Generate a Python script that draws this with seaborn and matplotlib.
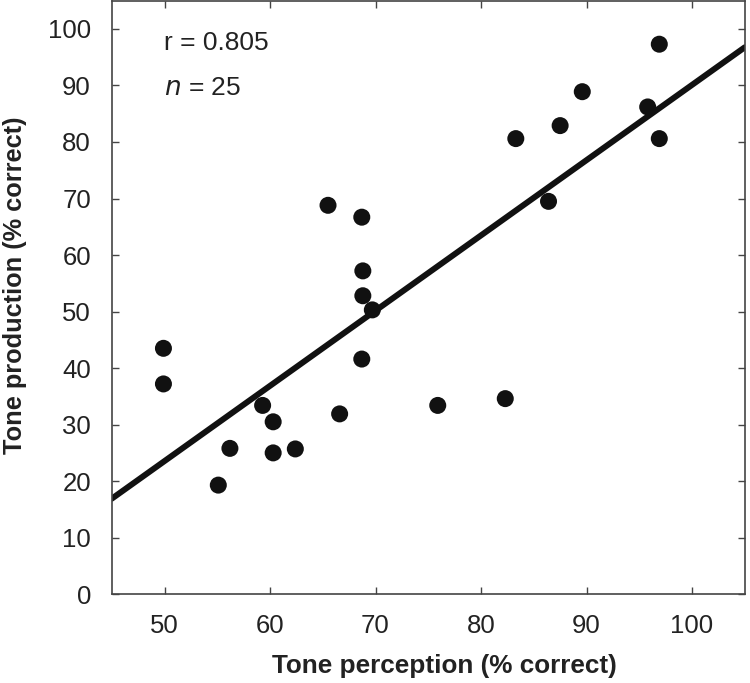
import numpy as np
import pandas as pd
import seaborn as sns
import matplotlib
matplotlib.use('Agg')
import matplotlib.pyplot as plt

# data
perception = [65.5, 68.7, 68.8, 68.8, 69.7,
              96.9, 89.6, 95.8, 87.5, 83.3, 96.9, 86.4,
              49.9, 49.9, 68.7, 59.3, 60.3, 66.6, 56.2, 60.3, 62.4, 55.1,
              75.9, 82.3]
production = [68.8, 66.7, 57.2, 52.8, 50.3,
              97.3, 88.9, 86.2, 82.9, 80.6, 80.6, 69.5,
              43.5, 37.2, 41.6, 33.4, 30.5, 31.9, 25.8, 25.0, 25.7, 19.3,
              33.4, 34.6]
r_text = 'r = 0.805'
n_total = 25

df = pd.DataFrame({'perception': perception, 'production': production})

sns.set_style('ticks')
plt.rcParams['font.family'] = ['Liberation Sans', 'DejaVu Sans']

fig, ax = plt.subplots(figsize=(7.5, 6.83), dpi=100)
fig.subplots_adjust(left=0.149, right=0.993, top=0.999, bottom=0.130)

# limits first so the fitted line spans the whole axis
ax.set_xlim(45, 105)
ax.set_ylim(0, 105)

sns.regplot(data=df, x='perception', y='production', ax=ax, ci=None,
            truncate=False,
            scatter_kws={'s': 150, 'color': '#111111', 'edgecolor': 'none', 'alpha': 1},
            line_kws={'color': '#111111', 'linewidth': 4.3})

ax.set_xlim(45, 105)
ax.set_ylim(0, 105)
ax.set_xticks([50, 60, 70, 80, 90, 100])
ax.set_yticks(range(0, 101, 10))
ax.tick_params(direction='in', length=5, width=1, color='#444444',
               labelsize=18.5, top=True, right=True, labelcolor='#222222')
ax.tick_params(axis='x', pad=14)
ax.tick_params(axis='y', pad=15)
for sp in ax.spines.values():
    sp.set_color('#444444')
    sp.set_linewidth(1.2)

ax.set_xlabel('Tone perception (% correct)', fontsize=18.8, fontweight='bold', color='#222222')
ax.set_ylabel('Tone production (% correct)', fontsize=18.3, fontweight='bold', color='#222222')
ax.xaxis.set_label_coords(0.525, -0.100)
ax.yaxis.set_label_coords(-0.134, 0.52)

ax.text(50, 97.6, r_text, fontsize=19, va='center', ha='left', color='#222222')
ax.text(50, 89.6, r'$\it{n}$ = ' + str(n_total), fontsize=19, va='center', ha='left', color='#222222')

fig.savefig('out.png', dpi=100)
